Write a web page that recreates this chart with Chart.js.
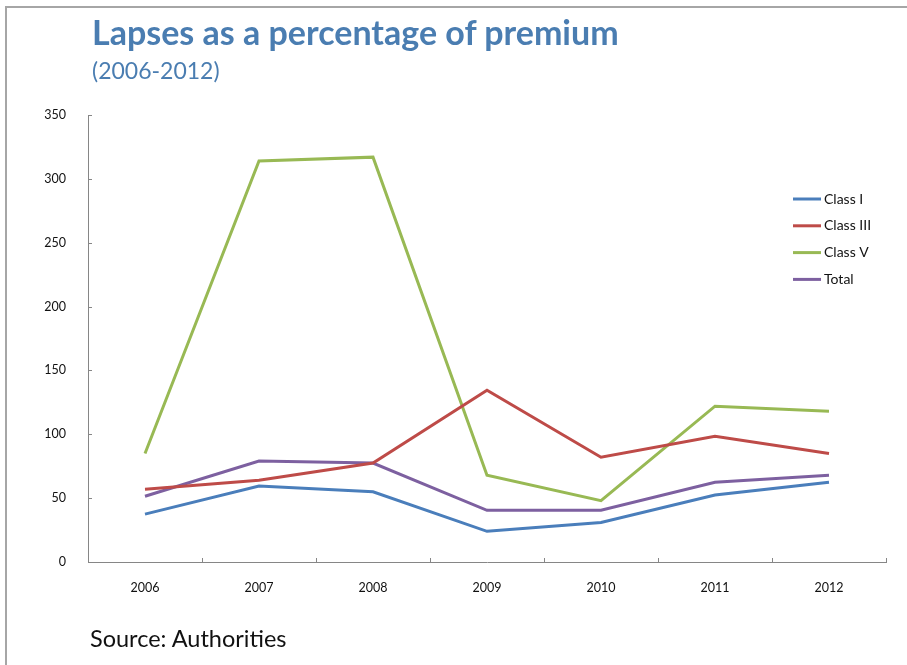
<!DOCTYPE html>
<html>
<head>
<meta charset="utf-8">
<script src="https://cdn.jsdelivr.net/npm/chart.js@4"></script>
<style>
  html, body { margin: 0; padding: 0; background: #fff; }
  #wrap { position: relative; width: 907px; height: 665px; overflow: hidden; }
  #frame { position: absolute; left: 5px; top: 6px; width: 910px; height: 670px;
           border-top: 2px solid #a6a6a6; border-left: 2px solid #a6a6a6; }
  #title { position: absolute; left: 92px; top: 11px; font: bold 34px Lato, sans-serif;
           color: #4a7db1; white-space: nowrap; }
  #subtitle { position: absolute; left: 92px; top: 56px; font: 23px Lato, sans-serif; color: #4a7db1; }
  #source { position: absolute; left: 90px; top: 624px; font: 23.5px Lato, sans-serif; color: #111; }
  canvas { position: absolute; left: 0; top: 0; }
</style>
</head>
<body>
<div id="wrap">
  <div id="frame"></div>
  <canvas id="chart" width="907" height="665"></canvas>
  <div id="title">Lapses as a percentage of premium</div>
  <div id="subtitle">(2006-2012)</div>
  <div id="source">Source: Authorities</div>
</div>
<script>
// data
const years = ["2006", "2007", "2008", "2009", "2010", "2011", "2012"];
const classI = [37.5, 59.5, 55, 24, 31, 52.5, 62.5];
const classIII = [57, 64, 77.5, 134.5, 82, 98.5, 85];
const classV = [85, 314, 317, 68, 48, 122, 118];
const total = [51.5, 79, 77.5, 40.5, 40.5, 62.5, 68];

const seriesNames = ["Class I", "Class III", "Class V", "Total"];
const seriesColors = ["#4a7ebb", "#be4b48", "#98b954", "#7d60a0"];

// small tick marks pointing into the plot, like the original
const innerTicks = {
  id: "innerTicks",
  afterDraw(chart) {
    const ctx = chart.ctx;
    const x = chart.scales.x, y = chart.scales.y;
    ctx.save();
    ctx.strokeStyle = "#868686";
    ctx.lineWidth = 1;
    ctx.beginPath();
    y.ticks.forEach((t, i) => {
      const py = Math.round(y.getPixelForTick(i)) + 0.5;
      ctx.moveTo(y.right, py);
      ctx.lineTo(y.right + 4, py);
    });
    const w = (x.right - x.left) / years.length;
    for (let i = 1; i <= years.length; i++) {
      const px = Math.round(x.left + i * w) + 0.5;
      ctx.moveTo(px, x.top);
      ctx.lineTo(px, x.top - 4);
    }
    ctx.stroke();
    ctx.restore();
  }
};

// legend drawn inside the plot area on the right
const innerLegend = {
  id: "innerLegend",
  afterDraw(chart) {
    const ctx = chart.ctx;
    const area = chart.chartArea;
    const lx = area.right - 93;
    let ly = area.top + 84;
    ctx.save();
    ctx.font = "14px Lato, sans-serif";
    ctx.textBaseline = "middle";
    chart.data.datasets.forEach(ds => {
      ctx.strokeStyle = ds.borderColor;
      ctx.lineWidth = 3;
      ctx.beginPath();
      ctx.moveTo(lx, ly);
      ctx.lineTo(lx + 28, ly);
      ctx.stroke();
      ctx.fillStyle = "#111";
      ctx.fillText(ds.label, lx + 31, ly);
      ly += 26.8;
    });
    ctx.restore();
  }
};

const seriesData = [classI, classIII, classV, total];

new Chart(document.getElementById("chart"), {
  type: "line",
  data: {
    labels: years,
    datasets: seriesData.map((d, i) => ({
      label: seriesNames[i],
      data: d,
      borderColor: seriesColors[i],
      backgroundColor: seriesColors[i],
      borderWidth: 3,
      pointRadius: 0,
      tension: 0
    }))
  },
  options: {
    responsive: false,
    animation: false,
    layout: { padding: { top: 115, right: 21, left: 0, bottom: 0 } },
    plugins: {
      legend: { display: false },
      tooltip: { enabled: false }
    },
    scales: {
      x: {
        offset: true,
        grid: { display: false, offset: true },
        border: { color: "#868686", width: 1 },
        ticks: { color: "#111", font: { family: "Lato, sans-serif", size: 12.5 }, padding: 10, maxRotation: 0 },
        afterFit(s) { s.height = 103; }
      },
      y: {
        min: 0,
        max: 350,
        grid: { display: false },
        border: { color: "#868686", width: 1 },
        ticks: { stepSize: 50, color: "#111", font: { family: "Lato, sans-serif", size: 12.5 }, padding: 14 },
        afterFit(s) { s.width = 88; }
      }
    }
  },
  plugins: [innerTicks, innerLegend]
});
</script>
</body>
</html>
